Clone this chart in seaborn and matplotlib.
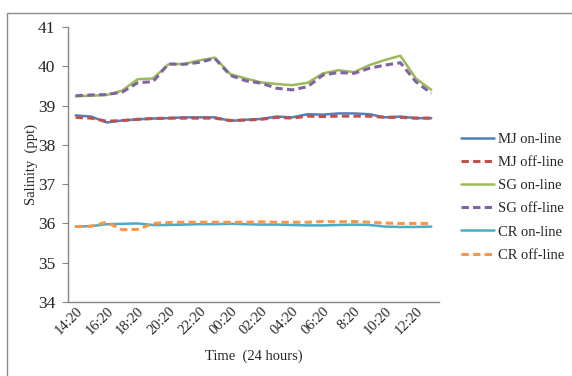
import matplotlib
matplotlib.use("Agg")
import matplotlib.pyplot as plt
import matplotlib.patches as mpatches
import seaborn as sns
import pandas as pd
import numpy as np

times = ["14:20", "15:20", "16:20", "17:20", "18:20", "19:20", "20:20", "21:20",
         "22:20", "23:20", "00:20", "01:20", "02:20", "03:20", "04:20", "05:20",
         "06:20", "07:20", "8:20", "9:20", "10:20", "11:20", "12:20", "13:20"]

mj_on = [38.75, 38.72, 38.57, 38.62, 38.65, 38.67, 38.68, 38.70, 38.70, 38.70, 38.61, 38.64,
         38.66, 38.72, 38.70, 38.78, 38.77, 38.80, 38.80, 38.78, 38.70, 38.72, 38.68, 38.68]
mj_off = [38.70, 38.68, 38.60, 38.62, 38.65, 38.67, 38.68, 38.68, 38.68, 38.68, 38.62, 38.63,
          38.65, 38.70, 38.68, 38.73, 38.72, 38.73, 38.73, 38.73, 38.70, 38.70, 38.68, 38.68]
sg_on = [39.24, 39.25, 39.27, 39.38, 39.67, 39.69, 40.05, 40.06, 40.15, 40.22, 39.80, 39.69,
         39.59, 39.55, 39.52, 39.58, 39.82, 39.90, 39.85, 40.03, 40.16, 40.27, 39.69, 39.40]
sg_off = [39.25, 39.27, 39.28, 39.34, 39.58, 39.61, 40.06, 40.05, 40.10, 40.20, 39.77, 39.63,
          39.57, 39.44, 39.40, 39.48, 39.78, 39.84, 39.82, 39.95, 40.03, 40.09, 39.61, 39.31]
cr_on = [35.92, 35.93, 35.98, 35.99, 36.00, 35.96, 35.96, 35.97, 35.98, 35.98, 35.99, 35.98,
         35.97, 35.97, 35.96, 35.95, 35.95, 35.96, 35.97, 35.96, 35.92, 35.91, 35.91, 35.92]
cr_off = [35.92, 35.93, 36.03, 35.84, 35.85, 36.00, 36.02, 36.03, 36.03, 36.03, 36.03, 36.03,
          36.04, 36.03, 36.03, 36.03, 36.05, 36.04, 36.05, 36.03, 36.01, 36.00, 36.00, 36.00]

series_names = ["MJ on-line", "MJ off-line", "SG on-line", "SG off-line", "CR on-line", "CR off-line"]
series_vals = [mj_on, mj_off, sg_on, sg_off, cr_on, cr_off]
colors = ["#4F81BD", "#C0504D", "#9BBB59", "#8064A2", "#4BACC6", "#F79646"]
dashed = [False, True, False, True, False, True]

sns.set_theme(style="white")
plt.rcParams['font.family'] = ['Liberation Serif', 'DejaVu Serif']

fig = plt.figure(figsize=(5.72, 3.76), dpi=100)
ax = fig.add_axes([68/572, 1-302/376, (439-68)/572, (302-27)/376])

# outer border
fig.patches.append(mpatches.Rectangle((7/572, -0.1), 1.2, (376-13)/376 + 0.1,
                                      transform=fig.transFigure, fill=False,
                                      edgecolor="#8c8c8c", linewidth=1.0))

idx = np.arange(len(times))
handles = []
for name, vals, c, d in zip(series_names, series_vals, colors, dashed):
    df = pd.DataFrame({"x": idx, "y": vals})
    sns.lineplot(data=df, x="x", y="y", ax=ax, color=c, linewidth=2.2 if d else 1.8)
    line = ax.lines[-1]
    if d:
        line.set_dashes([2.4, 1.4])
    line.set_label(name)
    handles.append(line)
if ax.get_legend() is not None:
    ax.get_legend().remove()

ax.set_xlim(-0.5, len(times) - 0.5)
ax.set_ylim(34, 41)
ax.set_yticks(range(34, 42))
ax.set_yticklabels([str(v) for v in range(34, 42)], fontsize=12.5)
tick_pos = idx[::2]
ax.set_xticks(tick_pos)
ax.set_xticklabels([times[i] for i in tick_pos], rotation=45, ha="right",
                   rotation_mode="anchor", fontsize=10.5)
ax.tick_params(axis="x", length=0, pad=2)
ax.tick_params(axis="y", length=4, width=0.8, color="#868686", direction="out", pad=5, left=True)

for s in ["top", "right"]:
    ax.spines[s].set_visible(False)
for s in ["left", "bottom"]:
    ax.spines[s].set_color("#868686")
    ax.spines[s].set_linewidth(1.0)

ax.set_xlabel("Time  (24 hours)", fontsize=10.5, labelpad=9)
ax.set_ylabel("Salinity  (ppt)", fontsize=10.5, labelpad=0)

leg = fig.legend(handles=handles, labels=series_names, loc="upper left",
                 bbox_to_anchor=(455/572, 1-127/376), frameon=False, fontsize=10.5,
                 handlelength=2.3, handletextpad=0.25, labelspacing=0.68, borderaxespad=0)

fig.savefig("out.png", dpi=100)
